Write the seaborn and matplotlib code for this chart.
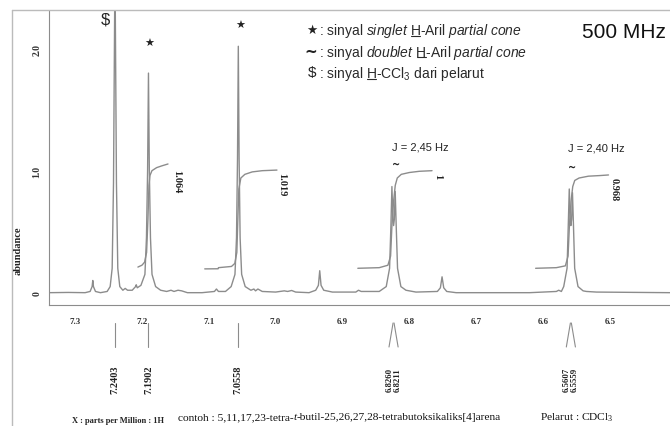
import matplotlib
matplotlib.use('Agg')
import matplotlib.pyplot as plt
import seaborn as sns
import pandas as pd
from matplotlib.lines import Line2D
from matplotlib.ticker import MultipleLocator, FormatStrFormatter

# spektrum 1H
ppm = [7.339, 7.310, 7.285, 7.2775, 7.2745, 7.2735, 7.2725, 7.2695, 7.262,
       7.252, 7.2475, 7.2445, 7.2425, 7.2403, 7.2381, 7.2361, 7.2331,
       7.2285, 7.2250, 7.2215, 7.2145, 7.2095, 7.2085, 7.2070,
       7.2015, 7.1955, 7.1932, 7.1915, 7.1902, 7.1889, 7.1872, 7.1849, 7.1795,
       7.172, 7.163, 7.1565, 7.152, 7.146, 7.1405, 7.132, 7.110,
       7.0915, 7.0885, 7.0855, 7.075,
       7.0665, 7.0608, 7.0585, 7.0570, 7.0558, 7.0546, 7.0531, 7.0508, 7.0455,
       7.037, 7.0325, 7.0300, 7.0265, 7.020, 7.000,
       6.9870, 6.9820, 6.9760, 6.9700, 6.950,
       6.9400, 6.9360, 6.9340, 6.9320, 6.9280, 6.915,
       6.8800, 6.8760, 6.8720, 6.8450,
       6.8345, 6.8295, 6.8275, 6.8260, 6.8245, 6.8235, 6.8224, 6.8211, 6.8196,
       6.8176, 6.8126, 6.8050, 6.790,
       6.7580, 6.7535, 6.7510, 6.7485, 6.7440, 6.730, 6.620,
       6.6000, 6.5800, 6.5765, 6.5725,
       6.5690, 6.5640, 6.5622, 6.5607, 6.5592, 6.5583, 6.5572, 6.5559, 6.5544,
       6.5526, 6.5476, 6.5400, 6.5350, 6.5200, 6.410]
abund = [0.0, 0.002, 0.0, 0.01, 0.05, 0.10, 0.05, 0.01, 0.0,
         0.01, 0.05, 0.2, 0.9, 2.7, 0.9, 0.2, 0.05,
         0.02, 0.035, 0.02, 0.02, 0.05, 0.065, 0.04,
         0.06, 0.15, 0.45, 1.0, 1.80, 1.0, 0.45, 0.15, 0.05,
         0.02, 0.01, 0.02, 0.01, 0.02, 0.015, 0.0, 0.0,
         0.01, 0.03, 0.01, 0.01,
         0.05, 0.15, 0.45, 1.1, 2.02, 1.1, 0.45, 0.15, 0.05,
         0.02, 0.03, 0.015, 0.03, 0.01, 0.005,
         0.015, 0.01, 0.018, 0.005, 0.0,
         0.02, 0.06, 0.18, 0.06, 0.02, 0.005,
         0.005, 0.02, 0.01, 0.01,
         0.05, 0.2, 0.55, 0.87, 0.6, 0.55, 0.6, 0.83, 0.55,
         0.2, 0.05, 0.02, 0.005,
         0.01, 0.04, 0.13, 0.04, 0.01, 0.0, 0.0,
         0.005, 0.01, 0.02, 0.01,
         0.05, 0.2, 0.55, 0.85, 0.6, 0.55, 0.6, 0.82, 0.55,
         0.2, 0.05, 0.015, 0.01, 0.005, 0.0]

# kurva integrasi
int1_x = [7.206, 7.200, 7.196, 7.193, 7.191, 7.1895, 7.188, 7.185, 7.178, 7.170, 7.161]
int1_y = [0.21, 0.225, 0.25, 0.33, 0.6, 0.88, 0.96, 1.0, 1.025, 1.04, 1.055]
int2_x = [7.106, 7.086, 7.0855, 7.066, 7.061, 7.058, 7.0565, 7.055, 7.052, 7.046, 7.035, 7.020, 6.998]
int2_y = [0.195, 0.196, 0.205, 0.215, 0.24, 0.33, 0.6, 0.85, 0.94, 0.97, 0.99, 1.0, 1.005]
int3_x = [6.877, 6.845, 6.832, 6.828, 6.826, 6.8235, 6.821, 6.818, 6.812, 6.800, 6.785, 6.766]
int3_y = [0.20, 0.205, 0.225, 0.30, 0.55, 0.75, 0.88, 0.94, 0.97, 0.985, 0.995, 1.0]
int4_x = [6.611, 6.580, 6.5665, 6.5625, 6.5605, 6.558, 6.5555, 6.5525, 6.546, 6.532, 6.515, 6.502]
int4_y = [0.20, 0.205, 0.22, 0.30, 0.55, 0.75, 0.87, 0.92, 0.94, 0.955, 0.96, 0.965]
int_labels = ['1.064', '1.019', '1', '0.968']
int_label_pos = [(7.148, 0.92), (6.991, 0.89), (6.757, 0.96), (6.493, 0.85)]

# puncak yang ditandai
single_peaks = [7.2403, 7.1902, 7.0558]
doublets = [(6.8260, 6.8211), (6.5607, 6.5559)]

W, H = 670, 427
GRAY = '#8c8c8c'

sns.set_style('white')
plt.rcParams['font.family'] = ['Liberation Sans', 'DejaVu Sans']
plt.rcParams['mathtext.fontset'] = 'custom'
plt.rcParams['mathtext.rm'] = 'Liberation Sans'
plt.rcParams['mathtext.it'] = 'Liberation Sans:italic'

fig = plt.figure(figsize=(6.7, 4.27), dpi=100)
ax = fig.add_axes([49 / W, 1 - 306 / H, 621 / W, 294 / H])
renderer = fig.canvas.get_renderer()

spec = pd.DataFrame({'ppm': ppm, 'abundance': abund})
sns.lineplot(data=spec, x='ppm', y='abundance', ax=ax, sort=False,
             estimator=None, color=GRAY, lw=1)
for xs, ys in [(int1_x, int1_y), (int2_x, int2_y), (int3_x, int3_y), (int4_x, int4_y)]:
    sns.lineplot(x=xs, y=ys, ax=ax, sort=False, estimator=None, color=GRAY, lw=1)

ax.set_xlim(7.339, 6.41)
ax.set_ylim(-0.101, 2.309)
ax.set_xlabel('')
ax.set_ylabel('')
for s in ['top', 'right']:
    ax.spines[s].set_visible(False)
for s in ['left', 'bottom']:
    ax.spines[s].set_color(GRAY)
    ax.spines[s].set_linewidth(0.8)

serif_b = dict(fontfamily='Liberation Serif', fontweight='bold')
ax.xaxis.set_major_locator(MultipleLocator(0.1))
ax.xaxis.set_minor_locator(MultipleLocator(0.01))
ax.xaxis.set_major_formatter(FormatStrFormatter('%.1f'))
ax.set_yticks([0, 1, 2])
ax.set_yticklabels(['0', '1.0', '2.0'], rotation=90, va='center', fontsize=7, **serif_b)
ax.yaxis.set_minor_locator(MultipleLocator(0.1))
for lab in ax.get_xticklabels():
    lab.set_fontsize(6.5)
    lab.set_fontfamily('Liberation Serif')
    lab.set_fontweight('bold')
ax.tick_params(axis='x', which='major', length=4, color=GRAY, pad=5, labelcolor='#333333')
ax.tick_params(axis='x', which='minor', length=3, color=GRAY)
ax.tick_params(axis='y', which='major', length=4, color=GRAY, pad=1.5, labelcolor='#333333')
ax.tick_params(axis='y', which='minor', length=2.5, color=GRAY)

# bingkai
fig.add_artist(Line2D([12 / W, 12 / W], [0, 1 - 11 / H], color='#bbbbbb', lw=1))
fig.add_artist(Line2D([12 / W, 1], [1 - 11 / H, 1 - 11 / H], color='#bbbbbb', lw=1))

# penanda puncak
mk = dict(ha='center', va='center', color='#222222')
ax.text(7.255, 2.243, r'\$', fontsize=12, **mk)
ax.text(7.189, 2.047, '★', fontsize=8, fontfamily='DejaVu Sans', **mk)
ax.text(7.053, 2.194, '★', fontsize=8, fontfamily='DejaVu Sans', **mk)
ax.text(6.820, 1.055, '~', fontsize=7, fontfamily='DejaVu Sans', fontweight='bold', **mk)
ax.text(6.556, 1.03, '~', fontsize=7, fontfamily='DejaVu Sans', fontweight='bold', **mk)
ax.text(6.783, 1.20, 'J = 2,45 Hz', fontsize=8, **mk)
ax.text(6.520, 1.194, 'J = 2,40 Hz', fontsize=8, **mk)
for lab, (px, py) in zip(int_labels, int_label_pos):
    ax.text(px, py, lab, rotation=270, fontsize=7.5, ha='center', va='center',
            color='#222222', **serif_b)

# garis & label pergeseran kimia di bawah sumbu
tr = ax.get_xaxis_transform()
y_top, y_bot, y_lab = (306 - 324) / 294, (306 - 348) / 294, (306 - 380) / 294
for p in single_peaks:
    ax.plot([p, p], [y_top, y_bot], transform=tr, color=GRAY, lw=0.8, clip_on=False)
    ax.text(p, y_lab, f'{p:.4f}', transform=tr, rotation=90, ha='center', va='center',
            fontsize=7.5, color='#222222', **serif_b)
for a, b in doublets:
    mid = (a + b) / 2
    for p, xb in [(a, mid + 0.0062), (b, mid - 0.0062)]:
        ax.plot([mid + (p - mid) * 0.3, xb + (p - mid) * 0.25], [y_top, y_bot], transform=tr,
                color=GRAY, lw=0.8, clip_on=False)
        ax.text(xb, y_lab, f'{p:.4f}', transform=tr, rotation=90, ha='center',
                va='center', fontsize=6.3, color='#222222', **serif_b)


def text_w(s, **kw):
    t = fig.text(0, 0, '|' + s + '|', **kw)
    w1 = t.get_window_extent(renderer).width
    t.set_text('||')
    w0 = t.get_window_extent(renderer).width
    t.remove()
    return w1 - w0


def line_with_h(x, ybase, before, after, **kw):
    # satu baris teks, H digaris bawahi
    fig.text(x / W, 1 - ybase / H, before + 'H' + after, ha='left', va='baseline', **kw)
    x1 = x + text_w(before + 'H', **kw)
    x0 = x1 - text_w('H', **kw)
    fig.add_artist(Line2D([(x0 + 0.5) / W, (x1 - 0.5) / W], [1 - (ybase + 1.6) / H] * 2,
                          color=kw.get('color', 'k'), lw=0.8))


# legenda
leg = dict(fontsize=10, fontfamily='Liberation Sans', color='#2a2a2a')
fig.text(312 / W, 1 - 30.5 / H, '★', fontsize=9, fontfamily='DejaVu Sans', ha='center', va='center', color='#222222')
fig.text(311 / W, 1 - 52.5 / H, '~', fontsize=11, fontfamily='DejaVu Sans', fontweight='bold', ha='center', va='center', color='#222222')
fig.text(312 / W, 1 - 73.5 / H, r'\$', fontsize=11, ha='center', va='center', color='#222222')
line_with_h(319, 35, r': sinyal $\mathit{singlet}$ ', r'-Aril $\mathit{partial\ cone}$', **leg)
line_with_h(319, 56.5, r': sinyal $\mathit{doublet}$ ', r'-Aril $\mathit{partial\ cone}$', **leg)
line_with_h(319, 78, ': sinyal ', r'-CCl$_\mathregular{3}$ dari pelarut', **leg)

fig.text(624 / W, 1 - 38 / H, '500 MHz', fontsize=15, ha='center', va='baseline', color='#111111')

# sumbu y & keterangan bawah
fig.text(18 / W, 1 - 251 / H, 'abundance', rotation=90, ha='center', va='center',
         fontsize=7.5, color='#222222', **serif_b)
fig.text(72 / W, 1 - 423 / H, 'X : parts per Million : 1H', ha='left', va='baseline',
         fontsize=6, color='#222222', **serif_b)
bot = dict(fontsize=8.2, fontfamily='Liberation Serif', color='#111111')
x = 178
for piece, style in [('contoh : 5,11,17,23-tetra-', 'normal'), ('t', 'italic'),
                     ('-butil-25,26,27,28-tetrabutoksikaliks[4]arena', 'normal')]:
    fig.text(x / W, 1 - 420 / H, piece, ha='left', va='baseline', fontstyle=style, **bot)
    x += text_w(piece, fontstyle=style, **bot)
fig.text(540 / W, 1 - 420 / H, r'Pelarut : CDCl$_\mathregular{3}$', ha='left', va='baseline', **bot)

fig.savefig('out.png', dpi=100)
